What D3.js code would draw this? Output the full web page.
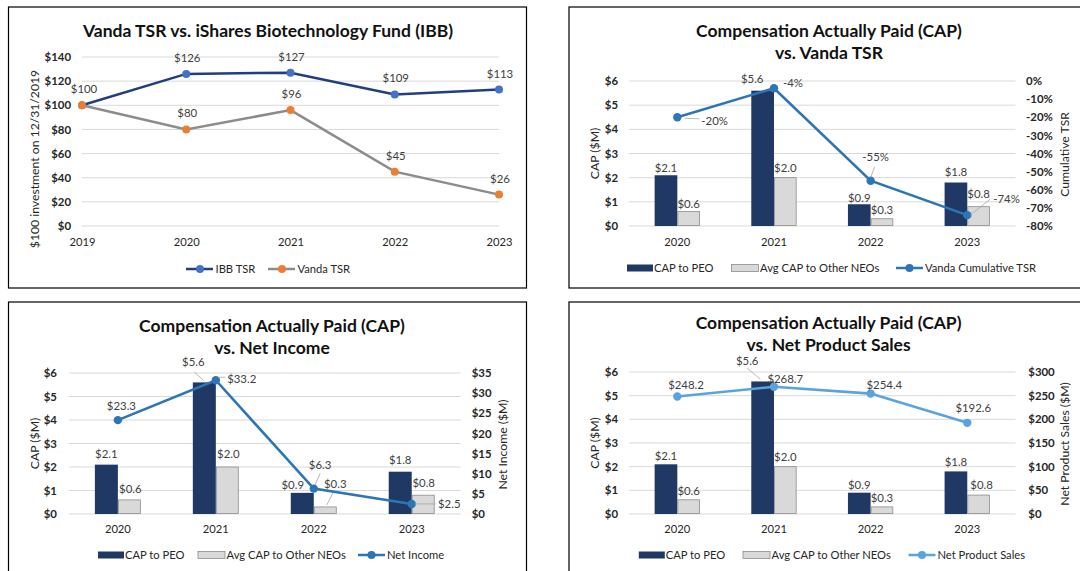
<!DOCTYPE html>
<html><head><meta charset="utf-8">
<script src="https://cdn.jsdelivr.net/npm/d3@7"></script>
<style>
html,body{margin:0;padding:0;background:#fff;}
svg{display:block;font-family:Lato,"Open Sans",sans-serif;}
</style></head>
<body>
<svg id="c" width="1080" height="571"></svg>
<script>
// ---------- DATA ----------
const tsrYears = ["2019","2020","2021","2022","2023"];
const ibbTSR = [100,126,127,109,113];
const vandaTSR = [100,80,96,45,26];
const tsrTicks = [0,20,40,60,80,100,120,140];

const capYears = ["2020","2021","2022","2023"];
const capPEO = [2.1,5.6,0.9,1.8];
const capOther = [0.6,2.0,0.3,0.8];
const capTicks = [0,1,2,3,4,5,6];

const vandaCumTSR = [-20,-4,-55,-74];
const cumTSRTicks = [0,-10,-20,-30,-40,-50,-60,-70,-80];

const netIncome = [23.3,33.2,6.3,2.5];
const netIncomeTicks = [0,5,10,15,20,25,30,35];

const netSales = [248.2,268.7,254.4,192.6];
const netSalesTicks = [0,50,100,150,200,250,300];

// ---------- STYLE ----------
const C = {dark:"#203864", light:"#d9d9d9", lightStroke:"#8c8c8c", grid:"#d9d9d9",
  text:"#404040", tick:"#262626", line1:"#2e75b6", line2:"#5ba3dc",
  ibb:"#213f7e", ibbDot:"#4472c4", van:"#8c8c8c", vanDot:"#ed7d31", leader:"#a6a6a6"};
const FS = {title:17.5, tick:11.4, cat:11.2, lab:11.4, leg:11.2, axt:12.2};
const svg = d3.select("#c");

function border(x,y,w,h){
  svg.append("rect").attr("x",x).attr("y",y).attr("width",w).attr("height",h)
    .attr("fill","none").attr("stroke","#000").attr("stroke-width",1.2);
}
function title(lines,cx,y0){
  lines.forEach((t,i)=>svg.append("text").attr("x",cx).attr("y",y0+i*22)
    .attr("text-anchor","middle").attr("font-size",FS.title).attr("font-weight",700)
    .attr("fill","#111").text(t));
}
function vtitle(t,x,y){
  svg.append("text").attr("transform",`translate(${x},${y}) rotate(-90)`)
    .attr("text-anchor","middle").attr("font-size",FS.axt).attr("fill",C.tick).text(t);
}
function label(x,y,t,anchor){
  svg.append("text").attr("x",x).attr("y",y).attr("text-anchor",anchor||"middle")
    .attr("font-size",FS.lab).attr("fill",C.text).text(t);
}
function leader(x1,y1,x2,y2){
  svg.append("line").attr("x1",x1).attr("y1",y1).attr("x2",x2).attr("y2",y2)
    .attr("stroke",C.leader).attr("stroke-width",0.8);
}
function styleAxis(g,bold,size){
  g.select(".domain").remove();
  g.selectAll("text").attr("font-size",size).attr("font-weight",bold?700:400)
    .attr("fill",C.tick).attr("font-family","Lato,sans-serif");
}

// ---------- PANEL 1 ----------
(function(){
  border(8.5,7,518,281);
  title(["Vanda TSR vs. iShares Biotechnology Fund (IBB)"],268,36.5);
  const x = d3.scalePoint().domain(tsrYears).range([82,499]);
  const y = d3.scaleLinear().domain([0,140]).range([226,57]);
  svg.selectAll(null).data(tsrTicks).join("line")
    .attr("x1",82).attr("x2",499).attr("y1",d=>y(d)).attr("y2",d=>y(d))
    .attr("stroke",C.grid).attr("stroke-width",1);
  styleAxis(svg.append("g").attr("transform","translate(82,0)")
    .call(d3.axisLeft(y).tickValues(tsrTicks).tickSize(0).tickPadding(11).tickFormat(d=>"$"+d)),true,FS.tick);
  styleAxis(svg.append("g").attr("transform","translate(0,226)")
    .call(d3.axisBottom(x).tickSize(0).tickPadding(12)),false,FS.cat);
  vtitle("$100 investment on 12/31/2019",38.5,159);
  const line = d3.line().x((d,i)=>x(tsrYears[i])).y(d=>y(d));
  [[ibbTSR,C.ibb,C.ibbDot],[vandaTSR,C.van,C.vanDot]].forEach(([data,lc,dc])=>{
    svg.append("path").datum(data).attr("d",line).attr("fill","none").attr("stroke",lc).attr("stroke-width",2.5);
    svg.selectAll(null).data(data).join("circle").attr("cx",(d,i)=>x(tsrYears[i])).attr("cy",d=>y(d))
      .attr("r",4).attr("fill",dc);
  });
  ibbTSR.forEach((d,i)=>{ if(i>0) label(x(tsrYears[i])+1,y(d)-12,"$"+d); });
  vandaTSR.forEach((d,i)=>{ label(x(tsrYears[i])+(i===0?2:1),y(d)-12,"$"+d); });
  const lg = [{t:"IBB TSR",lc:C.ibb,dc:C.ibbDot,x:186},{t:"Vanda TSR",lc:C.van,dc:C.vanDot,x:268}];
  lg.forEach(o=>{
    svg.append("line").attr("x1",o.x).attr("x2",o.x+27).attr("y1",269).attr("y2",269).attr("stroke",o.lc).attr("stroke-width",2.5);
    svg.append("circle").attr("cx",o.x+14).attr("cy",269).attr("r",4).attr("fill",o.dc);
    svg.append("text").attr("x",o.x+29.5).attr("y",273).attr("font-size",FS.leg).attr("fill",C.tick).text(o.t);
  });
})();

// ---------- COMBO PANELS ----------
function combo(cfg){
  const {left,right,top,bottom} = cfg;
  const x = d3.scaleBand().domain(capYears).range([left,right]);
  const xi = d3.scaleBand().domain(["peo","other"]).range([0,x.bandwidth()]).paddingOuter(1.13);
  const y = d3.scaleLinear().domain([0,6]).range([bottom,top]);
  const y2 = d3.scaleLinear().domain(cfg.rDomain).range([bottom,top]);
  svg.selectAll(null).data(capTicks).join("line")
    .attr("x1",left).attr("x2",right).attr("y1",d=>y(d)).attr("y2",d=>y(d))
    .attr("stroke",C.grid).attr("stroke-width",1);
  styleAxis(svg.append("g").attr("transform",`translate(${left},0)`)
    .call(d3.axisLeft(y).tickValues(capTicks).tickSize(0).tickPadding(cfg.lPad).tickFormat(d=>"$"+d)),true,FS.tick);
  styleAxis(svg.append("g").attr("transform",`translate(${right},0)`)
    .call(d3.axisRight(y2).tickValues(cfg.rTicks).tickSize(0).tickPadding(cfg.rPad).tickFormat(cfg.rFmt)),true,FS.tick);
  styleAxis(svg.append("g").attr("transform",`translate(0,${bottom})`)
    .call(d3.axisBottom(x).tickSize(0).tickPadding(cfg.xPad)),false,FS.cat);
  vtitle("CAP ($M)",cfg.lTitleX,(top+bottom)/2);
  vtitle(cfg.rTitle,cfg.rTitleX,(top+bottom)/2+1);
  // bars
  const bx = (i,k)=>x(capYears[i])+xi(k);
  svg.selectAll(null).data(capPEO).join("rect")
    .attr("x",(d,i)=>bx(i,"peo")).attr("width",xi.bandwidth())
    .attr("y",d=>y(d)).attr("height",d=>bottom-y(d)).attr("fill",C.dark);
  svg.selectAll(null).data(capOther).join("rect")
    .attr("x",(d,i)=>bx(i,"other")+0.5).attr("width",xi.bandwidth()-1)
    .attr("y",d=>y(d)).attr("height",d=>bottom-y(d)-0.5).attr("fill",C.light)
    .attr("stroke",C.lightStroke).attr("stroke-width",0.8);
  // bar labels
  [[capPEO,"peo",cfg.peoOff],[capOther,"other",cfg.othOff]].forEach(([data,k,off])=>{
    data.forEach((d,i)=>{
      const o = off[i];
      const cx = bx(i,k)+xi.bandwidth()/2, ty = y(d);
      const lx = cx+o[0], ly = ty+o[1];
      if(o[2]) leader(lx+o[2][0],ly+o[2][1],cx+o[2][2],ty+o[2][3]);
      label(lx,ly,"$"+d.toFixed(1));
    });
  });
  // line
  const px = i=>x(capYears[i])+x.bandwidth()/2;
  const line = d3.line().x((d,i)=>px(i)).y(d=>y2(d));
  svg.append("path").datum(cfg.line).attr("d",line).attr("fill","none")
    .attr("stroke",cfg.lineColor).attr("stroke-width",2.6);
  svg.selectAll(null).data(cfg.line).join("circle").attr("cx",(d,i)=>px(i)).attr("cy",d=>y2(d))
    .attr("r",4.2).attr("fill",cfg.lineColor);
  cfg.line.forEach((d,i)=>{
    const o = cfg.lineOff[i];
    if(o[3]) leader(px(i)+o[3][0],y2(d)+o[3][1],px(i)+o[3][2],y2(d)+o[3][3]);
    label(px(i)+o[0],y2(d)+o[1],cfg.lFmt(d),o[2]);
  });
  // legend
  const ly = cfg.legendY, lx = cfg.legendX;
  svg.append("rect").attr("x",lx[0]).attr("y",ly-3.5).attr("width",26).attr("height",7).attr("fill",C.dark);
  svg.append("text").attr("x",lx[0]+27).attr("y",ly+4).attr("font-size",FS.leg).attr("fill",C.tick).text("CAP to PEO");
  svg.append("rect").attr("x",lx[1]).attr("y",ly-3.5).attr("width",27).attr("height",7).attr("fill",C.light).attr("stroke",C.lightStroke).attr("stroke-width",0.8);
  svg.append("text").attr("x",lx[1]+28.5).attr("y",ly+4).attr("font-size",FS.leg).attr("fill",C.tick).text("Avg CAP to Other NEOs");
  svg.append("line").attr("x1",lx[2]).attr("x2",lx[2]+27).attr("y1",ly).attr("y2",ly).attr("stroke",cfg.lineColor).attr("stroke-width",2.5);
  svg.append("circle").attr("cx",lx[2]+13.5).attr("cy",ly).attr("r",4).attr("fill",cfg.lineColor);
  svg.append("text").attr("x",lx[2]+29).attr("y",ly+4).attr("font-size",FS.leg).attr("fill",C.tick).text(cfg.lineName);
}

// Panel 2
border(569,7,530,281);
title(["Compensation Actually Paid (CAP)","vs. Vanda TSR"],829,37);
combo({left:629,right:1015.6,top:81,bottom:226,lPad:11,xPad:12,
  rDomain:[-80,0],rTicks:cumTSRTicks,rFmt:d=>d+"%",rPad:10.5,
  rTitle:"Cumulative TSR",rTitleX:1069,lTitleX:598.5,
  line:vandaCumTSR,lineColor:C.line1,lFmt:d=>d+"%",lineName:"Vanda Cumulative TSR",
  lineOff:[[24,7.4,"start",[7,1,22,1.5]],[9,-1.3,"start"],[5,-19.7,"middle",[4,-14,0,-3]],[26,-12,"start",[3,0,23,-16]]],
  peoOff:[[0,-3],[-10.4,-7.4],[0,-2],[0,-6.5]],
  othOff:[[0,-4],[0,-5.7],[0,-5],[0,-9]],
  legendX:[627,731.5,896],legendY:268});

// Panel 3
border(8.5,302,518,300);
title(["Compensation Actually Paid (CAP)","vs. Net Income"],272,332);
combo({left:68.9,right:460.7,top:373,bottom:514,lPad:12,xPad:11,
  rDomain:[0,35],rTicks:netIncomeTicks,rFmt:d=>"$"+d,rPad:11,
  rTitle:"Net Income ($M)",rTitleX:507,lTitleX:38.5,
  line:netIncome,lineColor:C.line1,lFmt:d=>"$"+d.toFixed(1),lineName:"Net Income",
  lineOff:[[3.5,-10,"middle"],[11.3,2.4,"start",[2,-3,9.6,-3]],[6.3,-19.3,"middle",[6.3,-15.3,1.3,-3.6]],[26.3,4.4,"start",[3,0,24,0]]],
  peoOff:[[0,-7],[-11,-16.4,[1,6,-0.6,-1.7]],[-9.5,-3.5],[0,-7.4]],
  othOff:[[1,-7.3],[1,-9.4],[10,-19.4,[-1.7,4,1.5,-2]],[0.5,-8.2]],
  legendX:[98,198,358],legendY:555});

// Panel 4
border(569,302,530,300);
title(["Compensation Actually Paid (CAP)","vs. Net Product Sales"],828.6,329);
combo({left:629,right:1015.6,top:372,bottom:514,lPad:11,xPad:11,
  rDomain:[0,300],rTicks:netSalesTicks,rFmt:d=>"$"+d,rPad:12.7,
  rTitle:"Net Product Sales ($M)",rTitleX:1069,lTitleX:598.5,
  line:netSales,lineColor:C.line2,lFmt:d=>"$"+d.toFixed(1),lineName:"Net Product Sales",
  lineOff:[[8.7,-7.9,"middle"],[11.3,-4.2,"middle"],[13.7,-4.3,"middle"],[6,-10.8,"middle"]],
  peoOff:[[0,-4],[-15.4,-16.5,[0,3.3,-2.2,-2.2]],[0,-3.4],[0,-5.4]],
  othOff:[[0,-4.5],[0,-5.7],[0,-5.3],[3,-5.8]],
  legendX:[638.8,743,908.5],legendY:555});
</script>
</body></html>
